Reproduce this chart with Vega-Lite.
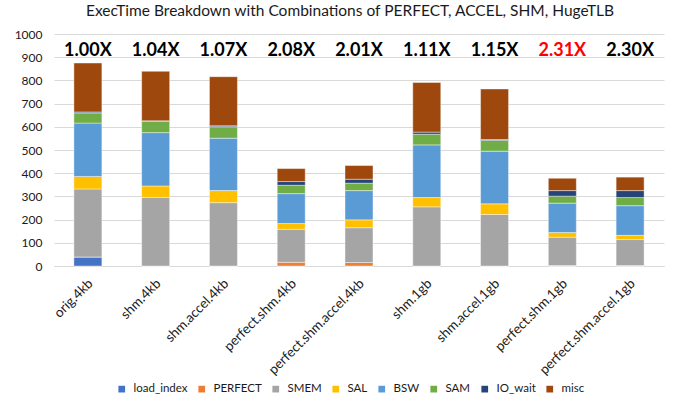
{
  "$schema": "https://vega.github.io/schema/vega-lite/v6.json",
  "width": 610,
  "height": 232,
  "autosize": {"type": "none"},
  "padding": {"left": 54, "top": 34, "right": 17, "bottom": 137},
  "background": "white",
  "title": {
    "text": "ExecTime Breakdown with Combinations of PERFECT, ACCEL, SHM, HugeTLB",
    "font": "Lato",
    "fontSize": 15.5,
    "fontWeight": "normal",
    "color": "#1a1a1a",
    "anchor": "middle",
    "dx": -9,
    "offset": 9
  },
  "config": {
    "view": {"stroke": null},
    "font": "Lato"
  },
  "resolve": {"axis": {"x": "independent", "y": "independent"}},
  "layer": [
    {
      "data": {
        "values": [
          {"config": "orig.4kb", "component": "load_index", "time": 39},
          {"config": "orig.4kb", "component": "PERFECT", "time": 0},
          {"config": "orig.4kb", "component": "SMEM", "time": 293},
          {"config": "orig.4kb", "component": "SAL", "time": 54},
          {"config": "orig.4kb", "component": "BSW", "time": 230},
          {"config": "orig.4kb", "component": "SAM", "time": 44},
          {"config": "orig.4kb", "component": "IO_wait", "time": 4},
          {"config": "orig.4kb", "component": "misc", "time": 211},
          {"config": "shm.4kb", "component": "load_index", "time": 0},
          {"config": "shm.4kb", "component": "PERFECT", "time": 0},
          {"config": "shm.4kb", "component": "SMEM", "time": 295},
          {"config": "shm.4kb", "component": "SAL", "time": 50},
          {"config": "shm.4kb", "component": "BSW", "time": 230},
          {"config": "shm.4kb", "component": "SAM", "time": 48},
          {"config": "shm.4kb", "component": "IO_wait", "time": 3},
          {"config": "shm.4kb", "component": "misc", "time": 213},
          {"config": "shm.accel.4kb", "component": "load_index", "time": 0},
          {"config": "shm.accel.4kb", "component": "PERFECT", "time": 0},
          {"config": "shm.accel.4kb", "component": "SMEM", "time": 273},
          {"config": "shm.accel.4kb", "component": "SAL", "time": 52},
          {"config": "shm.accel.4kb", "component": "BSW", "time": 226},
          {"config": "shm.accel.4kb", "component": "SAM", "time": 49},
          {"config": "shm.accel.4kb", "component": "IO_wait", "time": 4},
          {"config": "shm.accel.4kb", "component": "misc", "time": 212},
          {"config": "perfect.shm.4kb", "component": "load_index", "time": 0},
          {"config": "perfect.shm.4kb", "component": "PERFECT", "time": 16},
          {"config": "perfect.shm.4kb", "component": "SMEM", "time": 142},
          {"config": "perfect.shm.4kb", "component": "SAL", "time": 25},
          {"config": "perfect.shm.4kb", "component": "BSW", "time": 129},
          {"config": "perfect.shm.4kb", "component": "SAM", "time": 36},
          {"config": "perfect.shm.4kb", "component": "IO_wait", "time": 16},
          {"config": "perfect.shm.4kb", "component": "misc", "time": 56},
          {"config": "perfect.shm.accel.4kb", "component": "load_index", "time": 0},
          {"config": "perfect.shm.accel.4kb", "component": "PERFECT", "time": 15},
          {"config": "perfect.shm.accel.4kb", "component": "SMEM", "time": 150},
          {"config": "perfect.shm.accel.4kb", "component": "SAL", "time": 34},
          {"config": "perfect.shm.accel.4kb", "component": "BSW", "time": 126},
          {"config": "perfect.shm.accel.4kb", "component": "SAM", "time": 32},
          {"config": "perfect.shm.accel.4kb", "component": "IO_wait", "time": 17},
          {"config": "perfect.shm.accel.4kb", "component": "misc", "time": 59},
          {"config": "shm.1gb", "component": "load_index", "time": 0},
          {"config": "shm.1gb", "component": "PERFECT", "time": 0},
          {"config": "shm.1gb", "component": "SMEM", "time": 255},
          {"config": "shm.1gb", "component": "SAL", "time": 40},
          {"config": "shm.1gb", "component": "BSW", "time": 227},
          {"config": "shm.1gb", "component": "SAM", "time": 46},
          {"config": "shm.1gb", "component": "IO_wait", "time": 9},
          {"config": "shm.1gb", "component": "misc", "time": 214},
          {"config": "shm.accel.1gb", "component": "load_index", "time": 0},
          {"config": "shm.accel.1gb", "component": "PERFECT", "time": 0},
          {"config": "shm.accel.1gb", "component": "SMEM", "time": 222},
          {"config": "shm.accel.1gb", "component": "SAL", "time": 46},
          {"config": "shm.accel.1gb", "component": "BSW", "time": 227},
          {"config": "shm.accel.1gb", "component": "SAM", "time": 46},
          {"config": "shm.accel.1gb", "component": "IO_wait", "time": 4},
          {"config": "shm.accel.1gb", "component": "misc", "time": 218},
          {"config": "perfect.shm.1gb", "component": "load_index", "time": 0},
          {"config": "perfect.shm.1gb", "component": "PERFECT", "time": 2},
          {"config": "perfect.shm.1gb", "component": "SMEM", "time": 122},
          {"config": "perfect.shm.1gb", "component": "SAL", "time": 20},
          {"config": "perfect.shm.1gb", "component": "BSW", "time": 127},
          {"config": "perfect.shm.1gb", "component": "SAM", "time": 30},
          {"config": "perfect.shm.1gb", "component": "IO_wait", "time": 24},
          {"config": "perfect.shm.1gb", "component": "misc", "time": 53},
          {"config": "perfect.shm.accel.1gb", "component": "load_index", "time": 0},
          {"config": "perfect.shm.accel.1gb", "component": "PERFECT", "time": 2},
          {"config": "perfect.shm.accel.1gb", "component": "SMEM", "time": 112},
          {"config": "perfect.shm.accel.1gb", "component": "SAL", "time": 18},
          {"config": "perfect.shm.accel.1gb", "component": "BSW", "time": 128},
          {"config": "perfect.shm.accel.1gb", "component": "SAM", "time": 35},
          {"config": "perfect.shm.accel.1gb", "component": "IO_wait", "time": 30},
          {"config": "perfect.shm.accel.1gb", "component": "misc", "time": 58}
        ]
      },
      "transform": [
        {"calculate": "indexof(['load_index','PERFECT','SMEM','SAL','BSW','SAM','IO_wait','misc'], datum.component)", "as": "stackOrder"}
      ],
      "mark": {"type": "bar", "stroke": "white", "strokeWidth": 0.6, "strokeOpacity": 0.7},
      "encoding": {
        "x": {
          "field": "config",
          "type": "nominal",
          "sort": ["orig.4kb", "shm.4kb", "shm.accel.4kb", "perfect.shm.4kb", "perfect.shm.accel.4kb", "shm.1gb", "shm.accel.1gb", "perfect.shm.1gb", "perfect.shm.accel.1gb"],
          "scale": {"paddingInner": 0.587, "paddingOuter": 0.2935},
          "axis": {
            "title": null,
            "labelAngle": -45,
            "labelAlign": "right",
            "labelBaseline": "middle",
            "labelFontSize": 13.5,
            "labelFont": "Lato",
            "labelColor": "#1a1a1a",
            "ticks": false,
            "domainColor": "#d9d9d9",
            "labelPadding": 15,
            "labelOffset": 3
          }
        },
        "y": {
          "field": "time",
          "type": "quantitative",
          "stack": "zero",
          "scale": {"domain": [0, 1000], "nice": false},
          "axis": {
            "title": null,
            "values": [0, 100, 200, 300, 400, 500, 600, 700, 800, 900, 1000],
            "format": "d",
            "labelOverlap": false,
            "domain": false,
            "ticks": false,
            "gridColor": "#d9d9d9",
            "labelFontSize": 12,
            "labelFont": "Lato",
            "labelColor": "#1a1a1a",
            "labelPadding": 12
          }
        },
        "color": {
          "field": "component",
          "type": "nominal",
          "sort": ["load_index", "PERFECT", "SMEM", "SAL", "BSW", "SAM", "IO_wait", "misc"],
          "scale": {
            "domain": ["load_index", "PERFECT", "SMEM", "SAL", "BSW", "SAM", "IO_wait", "misc"],
            "range": ["#4472C4", "#ED7D31", "#A5A5A5", "#FFC000", "#5B9BD5", "#70AD47", "#264478", "#9E480E"]
          },
          "legend": {
            "orient": "none",
            "legendX": 62,
            "legendY": 349,
            "direction": "horizontal",
            "title": null,
            "symbolType": "square",
            "symbolSize": 45,
            "symbolStrokeWidth": 0,
            "labelFontSize": 11.5,
            "labelFont": "Lato",
            "labelColor": "#1a1a1a",
            "labelOffset": 6,
            "columnPadding": 8
          }
        },
        "order": {"field": "stackOrder", "type": "quantitative", "sort": "ascending"}
      }
    },
    {
      "data": {
        "values": [
          {"config": "orig.4kb", "speedup": "1.00X"},
          {"config": "shm.4kb", "speedup": "1.04X"},
          {"config": "shm.accel.4kb", "speedup": "1.07X"},
          {"config": "perfect.shm.4kb", "speedup": "2.08X"},
          {"config": "perfect.shm.accel.4kb", "speedup": "2.01X"},
          {"config": "shm.1gb", "speedup": "1.11X"},
          {"config": "shm.accel.1gb", "speedup": "1.15X"},
          {"config": "perfect.shm.1gb", "speedup": "2.31X"},
          {"config": "perfect.shm.accel.1gb", "speedup": "2.30X"}
        ]
      },
      "mark": {"type": "text", "font": "Lato", "fontSize": 18, "fontWeight": "bold", "baseline": "middle"},
      "encoding": {
        "x": {
          "field": "config",
          "type": "nominal",
          "sort": ["orig.4kb", "shm.4kb", "shm.accel.4kb", "perfect.shm.4kb", "perfect.shm.accel.4kb", "shm.1gb", "shm.accel.1gb", "perfect.shm.1gb", "perfect.shm.accel.1gb"],
          "axis": null
        },
        "y": {"datum": 925, "type": "quantitative", "axis": null},
        "text": {"field": "speedup"},
        "color": {
          "condition": {"test": "datum.speedup === '2.31X'", "value": "#ff0000"},
          "value": "#000000"
        }
      }
    }
  ]
}
